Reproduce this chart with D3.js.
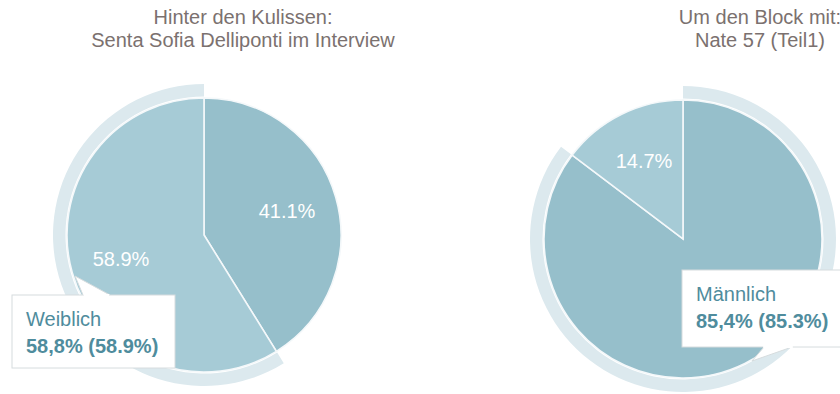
<!DOCTYPE html>
<html>
<head>
<meta charset="utf-8">
<script src="https://cdn.jsdelivr.net/npm/d3@7"></script>
<style>
  html, body { margin: 0; padding: 0; background: #fff; }
  svg { display: block; font-family: "Liberation Sans", Arial, sans-serif; }
</style>
</head>
<body>
<svg id="chart" width="840" height="394"></svg>
<script>
// Gender split of the audience for two video episodes
const categories = ["Männlich", "Weiblich"];
const leftTitle = ["Hinter den Kulissen:", "Senta Sofia Delliponti im Interview"];
const leftValues = [41.1, 58.8];
const rightTitle = ["Um den Block mit:", "Nate 57 (Teil1)"];
const rightValues = [85.4, 14.7];

const sliceColors = ["#96bfcb", "#a6cbd6"];
const ringColor = "#dce9ee";
const titleColor = "#7b716f";
const tipColor = "#4f8c9d";

const svg = d3.select("#chart");

const fmtPct = v => v.toFixed(1) + "%";
const fmtVal = v => v.toFixed(1).replace(".", ",") + "%";

function drawPie(cfg) {
  const g = svg.append("g").attr("transform", `translate(${cfg.cx},${cfg.cy})`);
  const total = d3.sum(cfg.values);
  const pie = d3.pie().sort(null).value(d => d)(cfg.values);
  const arc = d3.arc().innerRadius(0).outerRadius(cfg.r);
  const ring = d3.arc().innerRadius(cfg.r + 1.5).outerRadius(cfg.r + 14);
  const labelArc = d3.arc().innerRadius(cfg.r * 0.63).outerRadius(cfg.r * 0.63);
  const tip = cfg.tip;

  // highlight ring around the hovered slice
  g.append("path")
    .attr("d", ring(pie[cfg.hover]))
    .attr("fill", ringColor);

  g.selectAll("path.slice")
    .data(pie)
    .join("path")
    .attr("class", "slice")
    .attr("d", arc)
    .attr("fill", (d, i) => sliceColors[i])
    .attr("stroke", "#f4f8fa")
    .attr("stroke-width", 1.6);

  // percentage labels; a label that would sit under the tooltip stays hidden
  const underTip = d => {
    const [x, y] = labelArc.centroid(d);
    const ax = x + cfg.cx, ay = y + cfg.cy;
    return ax > tip.x && ax < tip.x + tip.w && ay > tip.y && ay < tip.y + tip.h;
  };
  g.selectAll("text.pct")
    .data(pie.filter(d => !underTip(d)))
    .join("text")
    .attr("class", "pct")
    .attr("transform", d => `translate(${labelArc.centroid(d)})`)
    .attr("text-anchor", "middle")
    .attr("dy", "0.36em")
    .attr("fill", "#ffffff")
    .attr("font-size", 20)
    .text(d => fmtPct(d.data / total * 100));

  // title
  const t = svg.append("text")
    .attr("text-anchor", "middle")
    .attr("fill", titleColor)
    .attr("font-size", 20);
  cfg.title.forEach((line, i) => {
    t.append("tspan").attr("x", cfg.titleX).attr("y", 24 + i * 23).text(line);
  });

  // tooltip for the hovered slice
  const tg = svg.append("g");
  tg.append("rect")
    .attr("x", tip.x).attr("y", tip.y)
    .attr("width", tip.w).attr("height", tip.h)
    .attr("fill", "#ffffff")
    .attr("stroke", "#d6dcde")
    .attr("stroke-width", 1);
  tg.append("path")
    .attr("d", d3.line()(tip.pointer))
    .attr("fill", "#ffffff")
    .attr("stroke", "#d6dcde")
    .attr("stroke-width", 1);
  // cover the box border under the pointer base
  tg.append("line")
    .attr("x1", tip.pointer[0][0] + 0.8).attr("y1", tip.pointer[0][1])
    .attr("x2", tip.pointer[2][0] - 0.8).attr("y2", tip.pointer[2][1])
    .attr("stroke", "#ffffff").attr("stroke-width", 2);
  const v = cfg.values[cfg.hover];
  tg.append("text")
    .attr("x", tip.x + 14).attr("y", tip.y + 31)
    .attr("fill", tipColor).attr("font-size", 20)
    .text(categories[cfg.hover]);
  tg.append("text")
    .attr("x", tip.x + 14).attr("y", tip.y + 58)
    .attr("fill", tipColor).attr("font-size", 20).attr("font-weight", "bold")
    .text(`${fmtVal(v)} (${fmtPct(v / total * 100)})`);
}

drawPie({
  cx: 204, cy: 235, r: 137, values: leftValues, hover: 1,
  title: leftTitle, titleX: 243,
  tip: { x: 12, y: 295, w: 163, h: 73, pointer: [[83, 295], [75, 276], [110, 295]] }
});

drawPie({
  cx: 683, cy: 239, r: 139, values: rightValues, hover: 0,
  title: rightTitle, titleX: 760,
  tip: { x: 682, y: 270, w: 170, h: 77, pointer: [[792, 347], [752, 361], [764, 347]] }
});
</script>
</body>
</html>
